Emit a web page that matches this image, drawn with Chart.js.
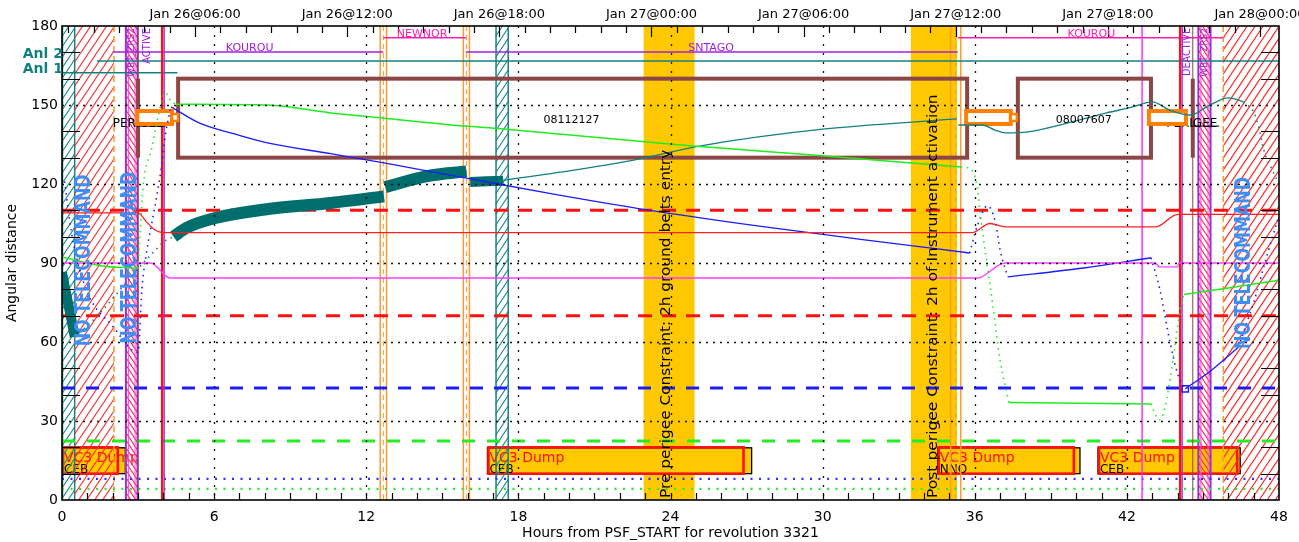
<!DOCTYPE html>
<html><head><meta charset="utf-8">
<script src="https://cdn.jsdelivr.net/npm/chart.js"></script>
<style>html,body{margin:0;padding:0;background:#fff;overflow:hidden}canvas{display:block}</style>
</head><body>
<canvas id="c" width="1299" height="542" style="width:1299px;height:542px"></canvas>
<script>
// ================= DATA =================
// axes
const xTickHours = [0, 6, 12, 18, 24, 30, 36, 42, 48];
const topTickHours = [5.25, 11.25, 17.25, 23.25, 29.25, 35.25, 41.25, 47.25];
const topTickLabels = ['Jan 26@06:00', 'Jan 26@12:00', 'Jan 26@18:00', 'Jan 27@00:00', 'Jan 27@06:00', 'Jan 27@12:00', 'Jan 27@18:00', 'Jan 28@00:00'];
const yTickValues = [0, 30, 60, 90, 120, 150, 180];
const gridHours = [6, 12, 18, 24, 30, 36, 42];
const gridDegrees = [30, 60, 90, 120, 150];

// curves (hours, degrees)
const thickTealAX = [0, 0.15, 0.35, 0.5];
const thickTealAY = [86.5, 79, 69.5, 62];
const thickTealBX = [4.4, 4.9, 6.0, 8.0, 10.6, 12.7];
const thickTealBY = [100, 103.3, 107, 110.3, 112.8, 115.3];
const thickTealCX = [12.75, 14.4, 15.95];
const thickTealCY = [118.8, 123, 124.8];
const thickTealDX = [16.1, 17.4];
const thickTealDY = [120.8, 121.2];

const tealDotAX = [0.5, 1.2, 2.4, 3.2, 3.7, 4.0, 4.4];
const tealDotAY = [62, 68, 81, 90, 95, 98, 100];
const tealBX = [17.2, 20, 22.5, 25.2, 30, 35.3];
const tealBY = [121.2, 125, 129, 134.5, 140.8, 144.7];
const tealCX = [35.35, 36.3, 36.8, 37.2, 38.1, 40, 41.2, 42.2, 43.0, 43.7, 44.5, 45.2, 46.0, 46.6];
const tealCY = [142.4, 142.4, 140.5, 139.4, 139.8, 144, 147, 149.2, 151.2, 148, 146.2, 149.6, 152.7, 151.2];
const tealDotBX = [46.6, 47.0, 47.2, 47.4, 47.7, 48];
const tealDotBY = [151.2, 147.4, 141.7, 133, 126, 120];

const blueDotAX = [0.1, 0.4, 1.0, 2.0, 3.0, 3.15, 3.35, 3.6, 3.9, 4.1, 4.3];
const blueDotAY = [121, 100, 79, 66, 56, 80, 95, 108, 125, 140, 149.3];
const blueAX = [4.3, 5.45, 6.8, 8.1, 10.6, 12.7, 15.9, 19.5, 23.2, 27.5, 31.5, 35.8];
const blueAY = [149.3, 143, 139, 135.6, 131.5, 128, 122.3, 116, 110, 104, 99, 93.8];
const blueDotBX = [35.8, 36.1, 36.5, 36.8, 37.0, 37.3];
const blueDotBY = [93.8, 104, 111.7, 106, 95, 84.7];
const blueBX = [37.3, 40.2, 42.95];
const blueBY = [84.7, 88, 92];
const blueDotCX = [42.95, 43.3, 43.7, 44.0, 44.3];
const blueDotCY = [92, 80, 60, 48, 42.2];
const blueCX = [44.3, 45.3, 46.4];
const blueCY = [42.2, 49, 58];
const blueDotDX = [46.4, 47.0, 47.5, 48];
const blueDotDY = [58, 75, 92, 108];
const blueMarkX = [44.3];
const blueMarkY = [42.2];

const greenAX = [0, 1.5, 3.0];
const greenAY = [92.3, 89, 88];
const greenDotAX = [3.0, 3.08, 3.2, 3.55, 3.8, 4.07, 4.3, 4.5];
const greenDotAY = [88, 101, 119, 134, 146, 154.6, 151.5, 150.3];
const greenBX = [4.5, 8.1, 10.6, 12.7, 15.9, 17.3, 24.4, 29.6, 35.45];
const greenBY = [150.3, 150, 147, 145, 142, 141, 134.8, 131, 126.5];
const greenDotBX = [35.45, 35.77, 36.1, 36.2, 36.7, 37.0, 37.35];
const greenDotBY = [126.5, 126, 119, 110, 75, 53, 37];
const greenCX = [37.35, 42.95];
const greenCY = [37, 36.5];
const greenDotCX = [42.95, 43.15, 43.3, 43.5, 43.8, 44.1, 44.25];
const greenDotCY = [36.5, 32, 30.4, 35, 52, 72, 78];
const greenDX = [44.25, 44.65, 46, 48];
const greenDY = [78, 78.6, 80.5, 83.5];

const redX = [0, 3.0, 3.3, 3.6, 4.0, 35.9, 36.6, 37.2, 43.15, 44.0, 48];
const redY = [109, 109, 106, 103, 101.5, 101.5, 105, 103.7, 103.7, 108.5, 108.5];
const magX = [0, 3.5, 4.26, 36.1, 37.2, 43.1, 43.3, 44.0, 44.05, 48];
const magY = [90, 90, 84.3, 84.3, 90, 90, 88.5, 88.5, 90, 90];

// constraint bands
const bandStart = [22.94, 33.48];
const bandEnd = [24.95, 35.3];
const bandText = ['Pre perigee Constraint: 2h ground belts entry', 'Post perigee Constraint: 2h of Instrument activation'];
const bandTextHour = [23.85, 34.35];
const bandTextTopDeg = [133, 154];

// VC3 dumps
const dumpStart = [0, 16.78, 34.54, 40.86];
const dumpEnd = [2.2, 26.88, 39.91, 46.35];
const dumpTail = [2.5, 27.2, 40.15, 46.47];
const dumpRange = [10, 20];
const dumpTitle = 'VC3 Dump';
const dumpSub = ['CEB', 'CEB', 'NNO', 'CEB'];

// zones
const tealZoneStart = [0, 17.1];
const tealZoneEnd = [0.5, 17.6];
const noCmdStart = [0.5, 45.8];
const noCmdEnd = [2.05, 48];
const wbtStart = [2.52, 44.82];
const wbtEnd = [2.98, 45.3];
const orangeStart = [12.55, 15.83, 35.05];
const orangeEnd = [12.8, 16.07, 35.45];
const noCmdText = 'NO TELECOMMAND';
const noCmdLabelHour = [0.89, 2.7, 46.65];
const noCmdLabelDeg = [91, 92, 90];

// reference levels
const redLevels = [110, 70];
const blueLevel = 42.5;
const greenLevel = 22.4;
const blueDotLevel = 8;
const greenDotLevel = 4.2;

// station passes
const stationNames = ['KOUROU', 'NEWNOR', 'SNTAGO', 'KOUROU'];
const stationStart = [2.0, 12.67, 15.93, 35.33];
const stationEnd = [12.67, 15.93, 35.33, 45.8];
const stationLevel = [170.1, 175.5, 170.1, 175.5];
const stationLabelHour = [7.4, 14.2, 25.6, 40.6];
const anlNames = ['Anl 2', 'Anl 1'];
const anlLevel = [166.7, 162.2];
const anlStart = [1.38, 0];
const anlEnd = [48, 4.55];

// observations / perigee
const obsIds = ['08112127', '08007607'];
const obsStart = [4.58, 37.7];
const obsEnd = [35.7, 42.95];
const obsIdHour = [20.1, 40.3];
const obsRange = [130, 160];
const perigeeBoxStart = [2.97, 35.66, 42.87];
const perigeeBoxEnd = [4.34, 37.42, 44.33];
const perigeeRange = [142.8, 147.7];
const perigeeTabStart = [4.34, 37.42];
const perigeeTabEnd = [4.58, 37.66];
const perigeeMarkHour = [3.0, 44.6];
const perigeeLabelHour = [2.0, 43.55];
const perigeeLabelDeg = 141.8;
const activeHour = [3.95];
const deactiveHour = [44.1];
const visHour = [42.6];
const eventLabels = ['ACTIVE', 'DEACTIVE'];
const eventLabelHour = [3.35, 44.37];
const wbtLabel = 'WBT_ZRS2';

// ================= DRAWING =================
Chart.defaults.font.family = '"DejaVu Sans", sans-serif';
Chart.defaults.color = '#000';

const pts = (xs, ys) => xs.map((x, i) => ({x: x, y: ys[i]}));
function solid(xs, ys, color, w) {
  return {data: pts(xs, ys), borderColor: color, borderWidth: w, pointRadius: 0, fill: false, cubicInterpolationMode: 'monotone', borderCapStyle: 'butt'};
}
function dotted(xs, ys, color) {
  return {data: pts(xs, ys), borderColor: color, borderWidth: 1.6, borderDash: [1.5, 4.5], pointRadius: 0, fill: false, cubicInterpolationMode: 'monotone'};
}
const RED = '#ff2020', MAG = '#ff3cff', GRN = '#1eee1e', BLU = '#1c1cff', TEAL = '#138080', TEALD = '#006e6c';
const datasets = [
  solid(redX, redY, RED, 1.3),
  solid(magX, magY, MAG, 1.3),
  solid(greenAX, greenAY, GRN, 1.5), dotted(greenDotAX, greenDotAY, GRN), solid(greenBX, greenBY, GRN, 1.5),
  dotted(greenDotBX, greenDotBY, GRN), solid(greenCX, greenCY, GRN, 1.5), dotted(greenDotCX, greenDotCY, GRN), solid(greenDX, greenDY, GRN, 1.5),
  dotted(blueDotAX, blueDotAY, BLU), solid(blueAX, blueAY, BLU, 1.3), dotted(blueDotBX, blueDotBY, BLU), solid(blueBX, blueBY, BLU, 1.3),
  dotted(blueDotCX, blueDotCY, BLU), solid(blueCX, blueCY, BLU, 1.3), dotted(blueDotDX, blueDotDY, BLU),
  {data: pts(blueMarkX, blueMarkY), showLine: false, pointStyle: 'rect', pointRadius: 4.5, borderColor: BLU, borderWidth: 1.5, backgroundColor: 'rgba(0,0,0,0)'},
  dotted(tealDotAX, tealDotAY, TEAL), solid(tealBX, tealBY, TEAL, 1.3), solid(tealCX, tealCY, TEAL, 1.3), dotted(tealDotBX, tealDotBY, TEAL),
  solid(thickTealAX, thickTealAY, TEALD, 10), solid(thickTealBX, thickTealBY, TEALD, 12), solid(thickTealCX, thickTealCY, TEALD, 12), solid(thickTealDX, thickTealDY, TEALD, 10)
];

function hatch(c, x0, x1, y0, y1, color, step, dir, lw) {
  c.save(); c.beginPath(); c.rect(x0, y0, x1 - x0, y1 - y0); c.clip();
  c.strokeStyle = color; c.lineWidth = lw; c.beginPath();
  const h = y1 - y0, dx = h / 1.5;
  for (let x = x0 - dx - step; x < x1 + dx + step; x += step) {
    if (dir > 0) { c.moveTo(x, y1); c.lineTo(x + dx, y0); }
    else { c.moveTo(x, y0); c.lineTo(x + dx, y1); }
  }
  c.stroke(); c.restore();
}
function vline(c, x, y0, y1, color, w, dash) {
  c.save(); c.strokeStyle = color; c.lineWidth = w; c.setLineDash(dash || []);
  c.beginPath(); c.moveTo(x, y0); c.lineTo(x, y1); c.stroke(); c.restore();
}
function hline(c, x0, x1, y, color, w, dash) {
  c.save(); c.strokeStyle = color; c.lineWidth = w; c.setLineDash(dash || []);
  c.beginPath(); c.moveTo(x0, y); c.lineTo(x1, y); c.stroke(); c.restore();
}
function rotText(c, text, x, y, font, color, align, maxLen, exact) {
  c.save(); c.translate(x, y); c.rotate(-Math.PI / 2);
  c.font = font; c.fillStyle = color; c.textAlign = align; c.textBaseline = 'middle';
  if (maxLen) { const w = c.measureText(text).width; if (w > maxLen || exact) c.scale(maxLen / w, 1); }
  c.fillText(text, 0, 0); c.restore();
}
function text(c, t, x, y, font, color, align) {
  c.save(); c.font = font; c.fillStyle = color; c.textAlign = align || 'left'; c.textBaseline = 'alphabetic';
  c.fillText(t, x, y); c.restore();
}

const overlay = {
  id: 'overlay',
  beforeDraw(ch) { const c = ch.ctx; c.save(); c.fillStyle = '#fff'; c.fillRect(0, 0, ch.width, ch.height); c.restore(); },
  beforeDatasetsDraw(ch) {
    const c = ch.ctx, a = ch.chartArea, sx = ch.scales.x, sy = ch.scales.y;
    const X = v => sx.getPixelForValue(v), Y = v => sy.getPixelForValue(v);
    c.save(); c.beginPath(); c.rect(a.left, a.top, a.right - a.left, a.bottom - a.top); c.clip();
    // constraint bands
    c.fillStyle = '#ffc800';
    bandStart.forEach((s, i) => c.fillRect(X(s), a.top, X(bandEnd[i]) - X(s), a.bottom - a.top));
    // VC3 dumps
    dumpStart.forEach((s, i) => {
      const x0 = X(s), x1 = X(dumpEnd[i]), x2 = X(dumpTail[i]), yt = Y(dumpRange[1]), yb = Y(dumpRange[0]);
      c.fillStyle = '#ffc800'; c.fillRect(x0, yt, x2 - x0, yb - yt);
      c.strokeStyle = '#000'; c.lineWidth = 1.3; c.strokeRect(x0, yt + 0.5, x2 - x0, yb - yt - 0.5);
      c.strokeStyle = '#ff1010'; c.lineWidth = 2.6; c.strokeRect(x0 + 1, yt, x1 - x0 - 1, yb - yt);
      text(c, dumpTitle, x0 + 2, yt + 15, '14px "DejaVu Sans"', '#ff1010');
      text(c, dumpSub[i], x0 + 2, yb - 1, '12px "DejaVu Sans"', '#000');
    });
    // teal zones
    tealZoneStart.forEach((s, i) => {
      const x0 = X(s), x1 = X(tealZoneEnd[i]);
      hatch(c, x0, x1, a.top, a.bottom, '#1f8a8a', 7, 1, 1.1);
      vline(c, x0 + 0.5, a.top, a.bottom, '#1a8080', 1.5); vline(c, x1, a.top, a.bottom, '#1a8080', 1.5);
    });
    // no telecommand zones
    noCmdStart.forEach((s, i) => {
      const x0 = X(s), x1 = X(noCmdEnd[i]);
      hatch(c, x0, x1, a.top, a.bottom, '#ff3030', 8, 1, 1.2);
      vline(c, i === 0 ? x1 : x0, a.top, a.bottom, '#ff9a30', 1.5, [6, 4]);
    });
    // WBT zones
    wbtStart.forEach((s, i) => {
      const x0 = X(s), x1 = X(wbtEnd[i]);
      hatch(c, x0, x1, a.top, a.bottom, '#ff2a2a', 5, -1, 1.1);
      vline(c, x0 + 2.5, a.top, a.bottom, '#ff40ff', 1); vline(c, x1 - 2.5, a.top, a.bottom, '#ff40ff', 1);
      vline(c, x0, a.top, a.bottom, '#9a30d0', 2); vline(c, x1, a.top, a.bottom, '#9a30d0', 2);
    });
    // orange double lines
    orangeStart.forEach((s, i) => {
      const x0 = X(s), x1 = X(orangeEnd[i]);
      vline(c, x0, a.top, a.bottom, '#ff9a30', 1.5); vline(c, x1, a.top, a.bottom, '#ff9a30', 1.5);
      vline(c, (x0 + x1) / 2, a.top, a.bottom, '#ff9a30', 1, [5, 4]);
    });
    // reference levels
    redLevels.forEach(v => hline(c, a.left, a.right, Y(v), '#ff1010', 3, [14, 10]));
    hline(c, a.left, a.right, Y(blueLevel), '#1c1cff', 3, [13, 11]);
    hline(c, a.left, a.right, Y(greenLevel), '#22ee22', 3, [13, 12]);
    hline(c, a.left, a.right, Y(blueDotLevel), '#3030ff', 2.2, [2, 6.5]);
    hline(c, a.left, a.right, Y(greenDotLevel), '#22ee22', 2.2, [2, 6.5]);
    // station passes
    stationStart.forEach((s, i) => {
      const col = i % 2 === 0 ? '#a020e0' : '#ff20b0';
      hline(c, X(s), X(stationEnd[i]), Y(stationLevel[i]), col, 1.5);
    });
    anlStart.forEach((s, i) => hline(c, X(s), X(anlEnd[i]), Y(anlLevel[i]), '#138080', 1.5));
    // vertical event lines
    visHour.forEach(h => vline(c, X(h), a.top, a.bottom, '#ff30ff', 1.5));
    activeHour.forEach(h => { vline(c, X(h), a.top, a.bottom, '#ff1010', 2.4); vline(c, X(h) + 2, a.top, a.bottom, '#a030e0', 1.4); });
    deactiveHour.forEach(h => { vline(c, X(h), a.top, a.bottom, '#ff1010', 2.4); vline(c, X(h) + 2, a.top, a.bottom, '#a030e0', 1.4); });
    perigeeMarkHour.forEach(h => vline(c, X(h), a.top, a.bottom, '#8c4646', 1));
    // observation boxes
    c.strokeStyle = '#8c4646'; c.lineWidth = 4;
    obsStart.forEach((s, i) => c.strokeRect(X(s), Y(obsRange[1]), X(obsEnd[i]) - X(s), Y(obsRange[0]) - Y(obsRange[1])));
    perigeeMarkHour.forEach(h => vline(c, X(h), Y(obsRange[1]), Y(obsRange[0]), '#8c4646', 4));
    // perigee labels (behind boxes)
    perigeeLabelHour.forEach(h => {
      text(c, 'PERIGEE', X(h), Y(perigeeLabelDeg), '12px "DejaVu Sans"', '#000', 'left');
      hline(c, X(h) + 25, X(h) + 53, Y(perigeeLabelDeg) - 0.5, '#000', 1);
    });
    // perigee boxes
    c.strokeStyle = '#ff8000'; c.lineWidth = 4; c.fillStyle = '#fff';
    perigeeBoxStart.forEach((s, i) => {
      const x0 = X(s), y0 = Y(perigeeRange[1]), w = X(perigeeBoxEnd[i]) - x0, h = Y(perigeeRange[0]) - y0;
      c.fillRect(x0, y0, w, h); c.strokeRect(x0, y0, w, h);
    });
    c.lineWidth = 2.5;
    perigeeTabStart.forEach((s, i) => {
      const x0 = X(s), y0 = Y(perigeeRange[1]) + 3, w = X(perigeeTabEnd[i]) - x0, h = Y(perigeeRange[0]) - Y(perigeeRange[1]) - 6;
      c.fillRect(x0, y0, w, h); c.strokeRect(x0, y0, w, h);
    });
    c.restore();
  },
  afterDatasetsDraw(ch) {
    const c = ch.ctx, a = ch.chartArea, sx = ch.scales.x, sy = ch.scales.y;
    const X = v => sx.getPixelForValue(v), Y = v => sy.getPixelForValue(v);
    // grid
    c.save();
    c.strokeStyle = '#111'; c.lineWidth = 1.3;
    c.setLineDash([2, 7]); c.beginPath();
    gridHours.forEach(h => { const x = Math.round(X(h)) + 0.5; c.moveTo(x, a.top); c.lineTo(x, a.bottom); });
    c.stroke();
    c.setLineDash([2, 5]); c.beginPath();
    gridDegrees.forEach(d => { const y = Math.round(Y(d)) + 0.5; c.moveTo(a.left, y); c.lineTo(a.right, y); });
    c.stroke();
    c.setLineDash([]);
    // ticks
    c.strokeStyle = '#000'; c.lineWidth = 1.2; c.beginPath();
    for (let d = 10; d < 180; d += 10) {
      if (d % 30 === 0) continue;
      const y = Math.round(Y(d)) + 0.5;
      c.moveTo(a.left, y); c.lineTo(a.left + 18, y); c.moveTo(a.right, y); c.lineTo(a.right - 18, y);
    }
    for (let h = 1; h < 48; h++) { const x = Math.round(X(h)) + 0.5; c.moveTo(x, a.bottom); c.lineTo(x, a.bottom - 7); }
    for (let h = 0.25; h < 48; h += 1) {
      const x = Math.round(X(h)) + 0.5, major = topTickHours.indexOf(h) >= 0;
      c.moveTo(x, a.top); c.lineTo(x, a.top + (major ? 11 : 7));
    }
    c.stroke();
    // frame
    c.lineWidth = 1.6; c.strokeRect(a.left, a.top, a.right - a.left, a.bottom - a.top);
    c.restore();

    // texts
    c.save(); c.beginPath(); c.rect(a.left, a.top, a.right - a.left, a.bottom - a.top); c.clip();
    bandText.forEach((t, i) => rotText(c, t, X(bandTextHour[i]), a.bottom - 2, '14px "DejaVu Sans"', '#000', 'left', (a.bottom - 2) - Y(bandTextTopDeg[i]), true));
    noCmdLabelHour.forEach((h, i) => rotText(c, noCmdText, X(h), Y(noCmdLabelDeg[i]), 'bold 21px "DejaVu Sans"', '#3f8ef5', 'center', 172));
    stationNames.forEach((n, i) => text(c, n, X(stationLabelHour[i]), Y(stationLevel[i]) - 1, '11px "DejaVu Sans"', i % 2 === 0 ? '#a020e0' : '#ff20b0', 'center'));
    obsIds.forEach((n, i) => text(c, n, X(obsIdHour[i]), Y(145) + 5, '11px "DejaVu Sans"', '#000', 'center'));
    eventLabels.forEach((t, i) => rotText(c, t, X(eventLabelHour[i]), a.top + 2, '10px "DejaVu Sans"', '#a020e0', 'right', 48));
    wbtStart.forEach((s, i) => rotText(c, wbtLabel, (X(s) + X(wbtEnd[i])) / 2, a.top + 2, '9px "DejaVu Sans"', '#a020e0', 'right', 60));
    c.restore();
    // Anl labels
    anlNames.forEach((n, i) => text(c, n, 63, Y(anlLevel[i]) - (i === 0 ? 3 : 0), 'bold 14px "DejaVu Sans"', '#138080', 'right'));
  }
};

new Chart(document.getElementById('c'), {
  type: 'line',
  data: {datasets: datasets},
  options: {
    responsive: false, animation: false, devicePixelRatio: 1,
    layout: {padding: {left: 0, right: 20, top: 0, bottom: 0}},
    plugins: {legend: {display: false}, tooltip: {enabled: false}},
    elements: {point: {radius: 0}, line: {tension: 0}},
    scales: {
      x: {
        type: 'linear', position: 'bottom', min: 0, max: 48,
        afterBuildTicks: s => { s.ticks = xTickHours.map(v => ({value: v})); },
        ticks: {padding: 9, font: {size: 14}, autoSkip: false, maxRotation: 0},
        grid: {display: false, drawTicks: false}, border: {display: false},
        title: {display: true, text: 'Hours from PSF_START for revolution 3321', font: {size: 14}, padding: {top: 0, bottom: 0}},
        afterFit: s => { s.height = 42; s.paddingLeft = 0; s.paddingRight = 0; }
      },
      xTop: {
        type: 'linear', position: 'top', min: 0, max: 48,
        afterBuildTicks: s => { s.ticks = topTickHours.map(v => ({value: v})); },
        ticks: {padding: 4, font: {size: 13}, autoSkip: false, maxRotation: 0, callback: (v, i) => topTickLabels[i]},
        grid: {display: false, drawTicks: false}, border: {display: false},
        afterFit: s => { s.height = 26; s.paddingLeft = 0; s.paddingRight = 0; }
      },
      y: {
        type: 'linear', min: 0, max: 180,
        afterBuildTicks: s => { s.ticks = yTickValues.map(v => ({value: v})); },
        ticks: {padding: 4, font: {size: 14}},
        grid: {display: false, drawTicks: false}, border: {display: false},
        title: {display: true, text: 'Angular distance', font: {size: 14}, padding: {top: 4, bottom: 0}},
        afterFit: s => { s.width = 62; s.paddingTop = 0; s.paddingBottom = 0; }
      }
    }
  },
  plugins: [overlay]
});
</script>
</body></html>
